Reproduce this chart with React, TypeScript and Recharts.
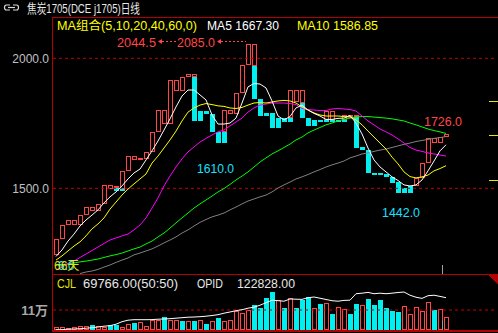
import { ComposedChart, Bar, Line, XAxis, YAxis, ReferenceLine } from 'recharts'

const FONT = '"Liberation Sans", "Noto Sans CJK SC", sans-serif'
const RED = '#ff4646'
const CYAN = '#00f0f0'
const FRAME = '#b40000'
const GRID = '#c00000'

// tower blocks (宝塔线): each block runs from open to close, colour flips at turn
const towerOpen = [
  1244, 1304, 1358, 1377, 1360, 1396, 1427, 1412, 1439, 1512,
  1510, 1491, 1567, 1624, 1609, 1612, 1639, 1715, 1801, 1746,
  1917, 1875, 1927, 1940, 1760, 1799, 1786, 1718, 1675, 1801,
  1786, 1865, 1974, 2055, 1842, 1779, 1791, 1733, 1772, 1754,
  1878, 1878, 1769, 1741, 1763, 1754, 1797, 1754, 1754, 1773,
  1782, 1660, 1647, 1558, 1550, 1555, 1545, 1525, 1483, 1483,
  1510, 1541, 1596, 1692, 1673, 1696,
]
const towerClose = [
  1304, 1358, 1377, 1360, 1396, 1427, 1412, 1439, 1512, 1499,
  1491, 1567, 1624, 1609, 1615, 1639, 1715, 1801, 1746, 1917,
  1875, 1927, 1940, 1760, 1799, 1786, 1718, 1675, 1801, 1786,
  1868, 1974, 2055, 1842, 1779, 1791, 1733, 1772, 1754, 1878,
  1833, 1769, 1741, 1763, 1754, 1797, 1754, 1763, 1782, 1782,
  1654, 1647, 1558, 1550, 1557, 1545, 1522, 1483, 1502, 1510,
  1541, 1596, 1692, 1673, 1696, 1708,
]
const towerTurn = [
  null, null, null, null, null, null, null, null, null, null,
  1500, 1499, null, null, null, null, null, null, null, null,
  null, null, null, 1927, null, null, null, null, 1718, null,
  null, null, null, 1972, null, null, null, null, null, 1769,
  null, 1827, null, null, null, 1763, 1763, null, 1763, null,
  1773, null, null, null, null, null, null, null, null, null,
  null, null, null, null, null, null,
]
// colour of the close end: r = red (up), c = cyan (down)
const towerColor = [
  'r', 'r', 'r', 'r', 'r', 'r', 'r', 'r', 'r', 'r',
  'c', 'r', 'r', 'r', 'r', 'r', 'r', 'r', 'r', 'r',
  'r', 'r', 'r', 'c', 'c', 'c', 'c', 'c', 'r', 'r',
  'r', 'r', 'r', 'c', 'c', 'c', 'c', 'c', 'c', 'r',
  'r', 'c', 'c', 'c', 'c', 'r', 'c', 'c', 'r', 'r',
  'c', 'c', 'c', 'c', 'c', 'c', 'c', 'c', 'c', 'c',
  'r', 'r', 'r', 'r', 'r', 'r',
]

const ma5 = [
  1238, 1263, 1297, 1324, 1355, 1378, 1397, 1417, 1444, 1467,
  1486, 1509, 1536, 1559, 1574, 1609, 1644, 1682, 1724, 1767,
  1813, 1855, 1878, 1878, 1859, 1840, 1782, 1747, 1747, 1751,
  1770, 1828, 1890, 1903, 1901, 1886, 1836, 1778, 1763, 1776,
  1809, 1820, 1801, 1788, 1778, 1765, 1765, 1769, 1770, 1780,
  1751, 1709, 1655, 1609, 1582, 1563, 1544, 1530, 1513, 1509,
  1513, 1532, 1567, 1605, 1644, 1667.3,
]
const ma10 = [
  1224, 1240, 1259, 1278, 1294, 1317, 1344, 1363, 1386, 1420,
  1447, 1474, 1497, 1517, 1536, 1555, 1597, 1624, 1655, 1686,
  1720, 1759, 1793, 1809, 1820, 1826, 1822, 1817, 1815, 1809,
  1807, 1811, 1820, 1828, 1830, 1828, 1832, 1836, 1838, 1836,
  1828, 1813, 1801, 1790, 1782, 1778, 1778, 1778, 1776, 1774,
  1763, 1744, 1720, 1697, 1674, 1651, 1620, 1594, 1563, 1545,
  1540, 1544, 1551, 1567, 1576, 1586.85,
]
const ma20 = [
  1186, 1197, 1211, 1220, 1234, 1247, 1261, 1274, 1288, 1301,
  1309, 1317, 1324, 1340, 1359, 1386, 1424, 1463, 1509, 1547,
  1582, 1613, 1640, 1659, 1678, 1692, 1705, 1717, 1724, 1740,
  1755, 1770, 1793, 1809, 1820, 1824, 1828, 1828, 1828, 1826,
  1822, 1807, 1803, 1801, 1799, 1799, 1805, 1807, 1805, 1803,
  1797, 1778, 1759, 1744, 1728, 1717, 1705, 1690, 1674, 1657,
  1647, 1642, 1636, 1632, 1628, 1624,
]
const ma40 = [
  1205, 1207, 1209, 1213, 1217, 1220, 1224, 1228, 1234, 1240,
  1245, 1251, 1259, 1267, 1274, 1286, 1297, 1313, 1328, 1347,
  1367, 1386, 1405, 1424, 1440, 1455, 1470, 1486, 1499, 1515,
  1532, 1547, 1563, 1582, 1601, 1617, 1632, 1644, 1657, 1670,
  1686, 1697, 1713, 1724, 1734, 1744, 1751, 1759, 1765, 1770,
  1774, 1776, 1776, 1774, 1772, 1770, 1767, 1763, 1759, 1751,
  1744, 1736, 1728, 1722, 1717, 1711,
]
const ma60 = [
  null, null, null, null, 1172, 1178, 1182, 1188, 1197, 1205,
  1215, 1224, 1232, 1244, 1251, 1259, 1267, 1278, 1290, 1301,
  1313, 1328, 1340, 1355, 1369, 1380, 1390, 1397, 1405, 1417,
  1428, 1440, 1451, 1459, 1467, 1474, 1486, 1501, 1513, 1524,
  1536, 1544, 1553, 1563, 1572, 1582, 1590, 1597, 1605, 1617,
  1624, 1632, 1636, 1642, 1647, 1651, 1657, 1663, 1669, 1674,
  1680, 1684, 1688, 1692, 1695, 1699,
]

const volume = [
  14300, 14300, 11000, 16500, 23700, 22000, 29200, 19800, 16500, 25300,
  25300, 16500, 34700, 38500, 45700, 23700, 52800, 52800, 69300, 56700,
  52800, 49500, 51200, 47300, 52800, 34700, 47300, 66000, 47300, 52800,
  107000, 92000, 112000, 137500, 122700, 177700, 210700, 165000, 122700, 177700,
  122700, 165000, 183200, 122700, 144700, 148500, 89700, 128200, 115500, 89700,
  144700, 137500, 172200, 139200, 166700, 122700, 106200, 100700, 132000, 89700,
  126500, 106200, 154000, 111700, 117200, 69766,
]
const volumeColor = [
  'r', 'r', 'r', 'r', 'r', 'r', 'c', 'r', 'r', 'c',
  'c', 'r', 'r', 'c', 'r', 'r', 'r', 'r', 'c', 'r',
  'r', 'c', 'r', 'c', 'r', 'c', 'r', 'c', 'r', 'r',
  'r', 'r', 'r', 'c', 'c', 'c', 'c', 'r', 'c', 'r',
  'c', 'c', 'c', 'r', 'c', 'r', 'c', 'r', 'r', 'c',
  'c', 'r', 'c', 'c', 'c', 'c', 'c', 'c', 'r', 'r',
  'r', 'r', 'r', 'c', 'r', 'r',
]
const opid = [
  1100, 1100, 3000, 3800, 4900, 6800, 8700, 11400, 14500, 16400,
  22100, 31600, 37300, 39200, 39200, 39200, 39500, 41100, 41800, 43000,
  44900, 46800, 48700, 49400, 50600, 52500, 55100, 58200, 63900, 68500,
  73400, 77200, 82900, 86700, 94300, 103800, 113300, 111400, 109500, 117900,
  117100, 116500, 122800, 125500, 120900, 116000, 111400, 109500, 112600, 113300,
  138000, 140000, 143000, 138000, 140000, 138000, 140000, 142600, 144500, 132300,
  124700, 120200, 130400, 132300, 127800, 122828,
]

const SLOTS = 74 // 66 trading days + empty space on the right

const rows = Array.from({ length: SLOTS }, (_, i) => {
  if (i >= towerClose.length) return { i }
  const o = towerOpen[i]
  const c = towerClose[i]
  return {
    i,
    range: [Math.min(o, c), Math.max(o, c)],
    open: o,
    close: c,
    turn: towerTurn[i],
    color: towerColor[i],
    ma5: ma5[i],
    ma10: ma10[i],
    ma20: ma20[i],
    ma40: ma40[i],
    ma60: ma60[i],
    vol: volume[i],
    volColor: volumeColor[i],
    opid: opid[i],
  }
})

const TowerBlock = (props: any) => {
  const { x, y, width, height, payload } = props
  if (!payload || !payload.range) return <g />
  const [lo, hi] = payload.range
  const k = hi > lo ? height / (hi - lo) : 0
  const py = (v: number) => y + (hi - v) * k
  const oldColor = payload.color === 'r' ? 'c' : 'r'
  const parts: [number, number, string][] =
    payload.turn == null
      ? [[payload.open, payload.close, payload.color]]
      : [
          [payload.open, payload.turn, oldColor],
          [payload.turn, payload.close, payload.color],
        ]
  return (
    <g>
      {parts.map(([a, b, c], j) => {
        const top = Math.round(py(Math.max(a, b)))
        const h = Math.max(Math.round(py(Math.min(a, b))) - top, 1)
        if (c === 'c' || h < 3) {
          return <rect key={j} x={x} y={top} width={width} height={h} fill={c === 'c' ? CYAN : RED} />
        }
        return (
          <rect key={j} x={x + 0.5} y={top + 0.5} width={width - 1} height={h - 1} fill="#000" stroke={RED} />
        )
      })}
    </g>
  )
}

const VolumeBar = (props: any) => {
  const { x, y, width, height, payload } = props
  if (!payload || payload.vol == null) return <g />
  const top = Math.round(y)
  const h = Math.max(Math.round(y + height) - top, 1)
  if (payload.volColor === 'c') {
    return <rect x={x} y={top} width={width} height={h} fill={CYAN} />
  }
  return <rect x={x + 0.5} y={top + 0.5} width={width - 1} height={h - 1} fill="#000" stroke={RED} />
}

const last = (arr: number[]) => arr[arr.length - 1]

export default function App() {
  const txt = { fontFamily: FONT } as const
  return (
    <div style={{ position: 'relative', width: 498, height: 333, background: '#000', overflow: 'hidden' }}>
      <style>{'body{margin:0;background:#000}'}</style>

      <div style={{ position: 'absolute', left: 0, top: 0 }}>
        <ComposedChart width={498} height={276} data={rows} margin={{ top: 17, right: 1, bottom: 2, left: 0 }}>
          <XAxis dataKey="i" hide />
          <YAxis
            domain={[1170.4, 2158.8]}
            allowDataOverflow
            ticks={[1500, 2000]}
            tickFormatter={(v: number) => v.toFixed(1)}
            width={53}
            axisLine={false}
            tickLine={false}
            tickSize={0}
            tickMargin={4}
            tick={{ fill: '#c0c0c0', fontSize: 12, fontFamily: FONT }}
          />
          <ReferenceLine y={2000} stroke={GRID} strokeDasharray="3 3" />
          <ReferenceLine y={1500} stroke={GRID} strokeDasharray="3 3" />
          <Bar dataKey="range" barSize={5} shape={TowerBlock} isAnimationActive={false} />
          <Line dataKey="ma60" stroke="#808080" dot={false} strokeWidth={1} isAnimationActive={false} />
          <Line dataKey="ma40" stroke="#00ff00" dot={false} strokeWidth={1} isAnimationActive={false} />
          <Line dataKey="ma20" stroke="#ff00ff" dot={false} strokeWidth={1} isAnimationActive={false} />
          <Line dataKey="ma10" stroke="#ffff00" dot={false} strokeWidth={1} isAnimationActive={false} />
          <Line dataKey="ma5" stroke="#ffffff" dot={false} strokeWidth={1} isAnimationActive={false} />
        </ComposedChart>
      </div>

      <div style={{ position: 'absolute', left: 0, top: 274 }}>
        <ComposedChart width={498} height={59} data={rows} margin={{ top: 16, right: 1, bottom: 3, left: 0 }}>
          <XAxis dataKey="i" hide />
          <YAxis
            domain={[0, 220000]}
            allowDataOverflow
            ticks={[110000]}
            tickFormatter={() => '11万'}
            width={53}
            axisLine={false}
            tickLine={false}
            tickSize={0}
            tickMargin={5}
            tick={{ fill: '#a8a8a8', fontSize: 13, fontWeight: 'bold', fontFamily: FONT }}
          />
          <YAxis yAxisId="op" hide domain={[0, 152120]} allowDataOverflow />
          <ReferenceLine y={110000} stroke={GRID} strokeDasharray="3 3" />
          <Bar dataKey="vol" barSize={5} shape={VolumeBar} isAnimationActive={false} />
          <Line yAxisId="op" dataKey="opid" stroke="#ffffff" dot={false} strokeWidth={1} isAnimationActive={false} />
        </ComposedChart>
      </div>

      <svg width={498} height={333} style={{ position: 'absolute', left: 0, top: 0, pointerEvents: 'none' }}>
        {/* frame */}
        <g shapeRendering="crispEdges">
          <line x1={52} x2={498} y1={17.5} y2={17.5} stroke={FRAME} />
          <line x1={52} x2={498} y1={274.5} y2={274.5} stroke={FRAME} />
          <line x1={52} x2={498} y1={331} y2={331} stroke={FRAME} strokeWidth={2} />
          <line x1={52.5} x2={52.5} y1={17} y2={332} stroke={FRAME} />
          <polygon points="488,275 498,275 498,285" fill={FRAME} />
          <line x1={489} x2={498} y1={101.5} y2={101.5} stroke="#e6e600" />
          <line x1={489} x2={498} y1={135.5} y2={135.5} stroke="#e6e600" />
          <line x1={489} x2={498} y1={180.5} y2={180.5} stroke="#e6e600" />
          <line x1={442.5} x2={442.5} y1={265} y2={274} stroke="#a0a0a0" />
          <line x1={442.5} x2={442.5} y1={321} y2={330} stroke="#a0a0a0" />
        </g>

        {/* title */}
        <g fill="none" stroke="#d8d8d8" strokeWidth={1.2}>
          <path d="M10,5 H6.5 Q4.5,5 4.5,7.5 Q4.5,10 6.5,10 H10" />
          <path d="M13,5 H16.5 Q18.5,5 18.5,7.5 Q18.5,10 16.5,10 H13" />
          <path d="M8,7.5 H15" />
        </g>
        <text x={27} y={13} fill="#e8e8e8" fontSize={13} textLength={113} lengthAdjust="spacingAndGlyphs" style={txt}>
          焦炭1705(DCE j1705)日线
        </text>

        {/* MA legend */}
        <text x={57} y={29.5} fill="#ffff00" fontSize={12} textLength={140} lengthAdjust="spacingAndGlyphs" style={txt}>
          MA组合(5,10,20,40,60,0)
        </text>
        <text x={207} y={29.5} fill="#ffffff" fontSize={12} textLength={72} lengthAdjust="spacingAndGlyphs" style={txt}>
          {`MA5 ${last(ma5).toFixed(2)}`}
        </text>
        <text x={297} y={29.5} fill="#ffff00" fontSize={12} textLength={81} lengthAdjust="spacingAndGlyphs" style={txt}>
          {`MA10 ${last(ma10).toFixed(2)}`}
        </text>

        {/* price marks */}
        <g fill={RED} stroke="none">
          <text x={117} y={46.5} fontSize={13} textLength={39} lengthAdjust="spacingAndGlyphs" style={txt}>2044.5</text>
          <text x={177} y={46.5} fontSize={13} textLength={38} lengthAdjust="spacingAndGlyphs" style={txt}>2085.0</text>
          <polygon points="158,41.5 162,39 162,44" />
          <polygon points="217,41.5 221,39 221,44" />
          <text x={424} y={126} fontSize={13} textLength={38} lengthAdjust="spacingAndGlyphs" style={txt}>1726.0</text>
        </g>
        <line x1={162} x2={177} y1={41.5} y2={41.5} stroke={RED} strokeDasharray="2 2" />
        <line x1={221} x2={246} y1={41.5} y2={41.5} stroke={RED} strokeDasharray="2 2" />
        <text x={197} y={173} fill="#19e0ff" fontSize={13} textLength={37} lengthAdjust="spacingAndGlyphs" style={txt}>1610.0</text>
        <text x={382} y={217} fill="#19e0ff" fontSize={13} textLength={38} lengthAdjust="spacingAndGlyphs" style={txt}>1442.0</text>

        <text x={58} y={270} fill="#19e0ff" fontSize={12} style={txt}>6.0</text>
        <text x={54} y={270} fill="#e6e600" fontSize={12} style={txt}>66天</text>

        {/* volume legend */}
        <text x={57} y={288} fill="#e6e600" fontSize={13} textLength={19} lengthAdjust="spacingAndGlyphs" style={txt}>CJL</text>
        <text x={83} y={288} fill="#e8e8e8" fontSize={13} textLength={95} lengthAdjust="spacingAndGlyphs" style={txt}>
          {`${last(volume).toFixed(2)}(50:50)`}
        </text>
        <text x={197} y={288} fill="#e8e8e8" fontSize={13} textLength={26} lengthAdjust="spacingAndGlyphs" style={txt}>OPID</text>
        <text x={237} y={288} fill="#e8e8e8" fontSize={13} textLength={58} lengthAdjust="spacingAndGlyphs" style={txt}>
          {last(opid).toFixed(2)}
        </text>
      </svg>
    </div>
  )
}
